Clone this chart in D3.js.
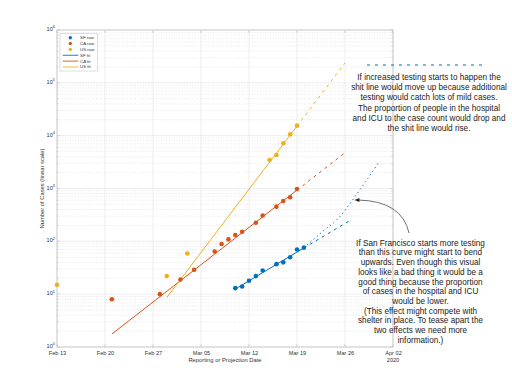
<!DOCTYPE html>
<html><head><meta charset="utf-8">
<script src="https://cdn.jsdelivr.net/npm/d3@7"></script>
<style>body{margin:0;background:#fff}svg{display:block}text{font-family:"Liberation Sans",Arial,Helvetica,sans-serif}</style>
</head><body><svg id="c" width="512" height="391"></svg>
<script>
// ---- data ----
const xTickDates = ["2020-02-13","2020-02-20","2020-02-27","2020-03-05","2020-03-12","2020-03-19","2020-03-26","2020-04-02"];
const yTickValues = [1,10,100,1000,10000,100000,1000000];

const sfDates = ["2020-03-10","2020-03-11","2020-03-12","2020-03-13","2020-03-14","2020-03-16","2020-03-17","2020-03-18","2020-03-19","2020-03-20"];
const sfRaw   = [13,14,18,22,28,37,40,50,70,76];
const caDates = ["2020-02-21","2020-02-28","2020-03-02","2020-03-04","2020-03-07","2020-03-08","2020-03-09","2020-03-10","2020-03-11","2020-03-13","2020-03-14","2020-03-16","2020-03-17","2020-03-18","2020-03-19"];
const caRaw   = [8,10,19,29,64,89,109,132,152,225,309,453,580,682,980];
const usDates = ["2020-02-13","2020-02-29","2020-03-03","2020-03-15","2020-03-16","2020-03-17","2020-03-18","2020-03-19"];
const usRaw   = [15,22,59,3470,4300,7170,10600,15460];

const sfFitDates = ["2020-03-10","2020-03-20"]; const sfFit = [12.5,75];
const sfProjDates = ["2020-03-20","2020-03-27"]; const sfProj = [75,260];
const sfTestDates = ["2020-03-20","2020-03-23","2020-03-25","2020-03-27","2020-03-29","2020-03-31"];
const sfTest = [75,164,270,580,1350,3200];
const caFitDates = ["2020-02-21","2020-03-19"]; const caFit = [1.76,933];
const caProjDates = ["2020-03-19","2020-03-26"]; const caProj = [933,4750];
const usFitDates = ["2020-02-29","2020-03-19"]; const usFit = [8.6,15200];
const usProjDates = ["2020-03-19","2020-03-26"]; const usProj = [15200,238000];

const legendLabels = ["SF raw","CA raw","US raw","SF fit","CA fit","US fit"];

const note1 = ["If increased testing starts to happen the","shit line would move up because additional","testing would catch lots of mild cases.","The proportion of people in the hospital","and ICU to the case count would drop and","the shit line would rise."];
const note2 = ["If San Francisco starts more testing","than this curve might start to bend","upwards.  Even though this visual","looks like a bad thing it would be a","good thing because the proportion","of cases in the hospital and ICU","would be lower.","(This effect might compete with","shelter in place.  To tease apart the","two effects we need more","information.)"];

// ---- drawing ----
const C = {sf:"#0072BD", ca:"#D95319", us:"#EDB120"};
const parse = d3.timeParse("%Y-%m-%d");
const svg = d3.select("#c");
svg.append("rect").attr("width",512).attr("height",391).attr("fill","#fff");
const L=57,R=393,T=30,B=347;
const x = d3.scaleTime().domain([parse("2020-02-13"),parse("2020-04-02")]).range([L,R]);
const y = d3.scaleLog().domain([1,1e6]).range([B,T]);

// grid
const grid = svg.append("g");
const minor=[];
for(let k=0;k<6;k++) for(let m=2;m<=9;m++) minor.push(m*Math.pow(10,k));
grid.selectAll(".mn").data(minor).join("line").attr("x1",L).attr("x2",R)
  .attr("y1",d=>y(d)).attr("y2",d=>y(d)).attr("stroke","#d8d8d8").attr("stroke-width",0.6).attr("stroke-dasharray","1,1.6");
grid.selectAll(".mj").data(yTickValues).join("line").attr("x1",L).attr("x2",R)
  .attr("y1",d=>y(d)).attr("y2",d=>y(d)).attr("stroke","#e6e6e6").attr("stroke-width",0.7);
grid.selectAll(".vx").data(xTickDates).join("line").attr("y1",T).attr("y2",B)
  .attr("x1",d=>x(parse(d))).attr("x2",d=>x(parse(d))).attr("stroke","#e6e6e6").attr("stroke-width",0.7);

// axes
const xa = svg.append("g").attr("transform",`translate(0,${B})`)
  .call(d3.axisBottom(x).tickValues(xTickDates.map(parse)).tickFormat(d3.timeFormat("%b %d")).tickSize(0).tickPadding(4));
xa.select(".domain").remove();
xa.selectAll("text").attr("font-size",5.6).attr("fill","#333").attr("font-family","Liberation Sans, Arial, sans-serif");
const ya = svg.append("g").attr("transform",`translate(${L},0)`)
  .call(d3.axisLeft(y).tickValues(yTickValues).tickFormat(()=>"").tickSize(0).tickPadding(2));
ya.select(".domain").remove();
ya.selectAll(".tick text").attr("font-size",5.6).attr("fill","#333").attr("font-family","Liberation Sans, Arial, sans-serif").attr("dy","0.1em")
  .each(function(d){const s=d3.select(this);s.append("tspan").text("10");s.append("tspan").attr("dy",-2.6).attr("font-size",4).text(Math.round(Math.log10(d)));});

// inward ticks
const tk = svg.append("g").attr("stroke","#bdbdbd").attr("stroke-width",0.6);
xTickDates.forEach(d=>{const xx=x(parse(d));tk.append("line").attr("x1",xx).attr("x2",xx).attr("y1",B).attr("y2",B-3);tk.append("line").attr("x1",xx).attr("x2",xx).attr("y1",T).attr("y2",T+3);});
yTickValues.forEach(d=>{tk.append("line").attr("x1",L).attr("x2",L+3).attr("y1",y(d)).attr("y2",y(d));tk.append("line").attr("x1",R).attr("x2",R-3).attr("y1",y(d)).attr("y2",y(d));});
minor.forEach(d=>{tk.append("line").attr("x1",L).attr("x2",L+1.6).attr("y1",y(d)).attr("y2",y(d));tk.append("line").attr("x1",R).attr("x2",R-1.6).attr("y1",y(d)).attr("y2",y(d));});
svg.append("rect").attr("x",L).attr("y",T).attr("width",R-L).attr("height",B-T).attr("fill","none").attr("stroke","#c4c4c4").attr("stroke-width",0.8);

// labels
svg.append("text").attr("x",(L+R)/2).attr("y",362).attr("text-anchor","middle").attr("font-size",5.8).attr("fill","#333").text("Reporting or Projection Date");
svg.append("text").attr("x",x(parse("2020-04-02"))).attr("y",362).attr("text-anchor","middle").attr("font-size",5.6).attr("fill","#333").text("2020");
svg.append("text").attr("transform",`translate(44,${(T+B)/2}) rotate(-90)`).attr("text-anchor","middle").attr("font-size",5.8).attr("fill","#333").text("Number of Cases (linear scale)");

// lines
const line = d3.line().x(d=>x(parse(d[0]))).y(d=>y(d[1]));
const curve = d3.line().x(d=>x(parse(d[0]))).y(d=>y(d[1])).curve(d3.curveMonotoneX);
const zip=(a,b)=>a.map((d,i)=>[d,b[i]]);
const lg = svg.append("g").attr("fill","none");
lg.append("path").attr("d",line(zip(caFitDates,caFit))).attr("stroke",C.ca).attr("stroke-width",1);
lg.append("path").attr("d",line(zip(caProjDates,caProj))).attr("stroke",C.ca).attr("stroke-width",1).attr("stroke-dasharray","3,4");
lg.append("path").attr("d",line(zip(usFitDates,usFit))).attr("stroke",C.us).attr("stroke-width",1);
lg.append("path").attr("d",line(zip(usProjDates,usProj))).attr("stroke",C.us).attr("stroke-width",1).attr("stroke-dasharray","3,4");
lg.append("path").attr("d",line(zip(sfFitDates,sfFit))).attr("stroke",C.sf).attr("stroke-width",1);
lg.append("path").attr("d",line(zip(sfProjDates,sfProj))).attr("stroke",C.sf).attr("stroke-width",1).attr("stroke-dasharray","3,4");
lg.append("path").attr("d",curve(zip(sfTestDates,sfTest))).attr("stroke",C.sf).attr("stroke-width",1).attr("stroke-dasharray","1.3,3");

// points
const pts = svg.append("g");
[[caDates,caRaw,C.ca],[usDates,usRaw,C.us],[sfDates,sfRaw,C.sf]].forEach(([ds,vs,c])=>{
  pts.selectAll(null).data(zip(ds,vs)).join("circle").attr("cx",d=>x(parse(d[0]))).attr("cy",d=>y(d[1])).attr("r",2.3).attr("fill",c);
});

// legend
const lgd = svg.append("g");
lgd.append("rect").attr("x",60).attr("y",33.3).attr("width",37.3).attr("height",37.7).attr("fill","#fff").attr("stroke","#bbb").attr("stroke-width",0.5);
const lc=[C.sf,C.ca,C.us,C.sf,C.ca,C.us];
legendLabels.forEach((t,i)=>{
  const yy=37.7+i*5.85;
  if(i<3) lgd.append("circle").attr("cx",70.3).attr("cy",yy).attr("r",1.7).attr("fill",lc[i]);
  else lgd.append("line").attr("x1",62.7).attr("x2",78.3).attr("y1",yy).attr("y2",yy).attr("stroke",lc[i]).attr("stroke-width",0.9);
  lgd.append("text").attr("x",80).attr("y",yy+1.5).attr("font-size",4.4).attr("fill","#333").text(t);
});

// annotations
svg.append("line").attr("x1",367).attr("x2",487).attr("y1",65).attr("y2",65).attr("stroke",C.sf).attr("stroke-width",1.1).attr("stroke-dasharray","3,5");
const a1 = svg.append("text").attr("text-anchor","middle").attr("font-size",8.2).attr("fill","#222");
note1.forEach((t,i)=>a1.append("tspan").attr("x",429).attr("y",79.7+i*10.3).text(t));
const a2 = svg.append("text").attr("text-anchor","middle").attr("font-size",8.2).attr("fill","#222");
note2.forEach((t,i)=>a2.append("tspan").attr("x",420.5).attr("y",245.7+i*9.7).text(t));
svg.append("path").attr("d","M409,233 Q402,201 358,200").attr("fill","none").attr("stroke","#333").attr("stroke-width",0.7);
svg.append("path").attr("d","M354.5,200 L359.5,198 L359.3,202 Z").attr("fill","#222");
</script></body></html>
